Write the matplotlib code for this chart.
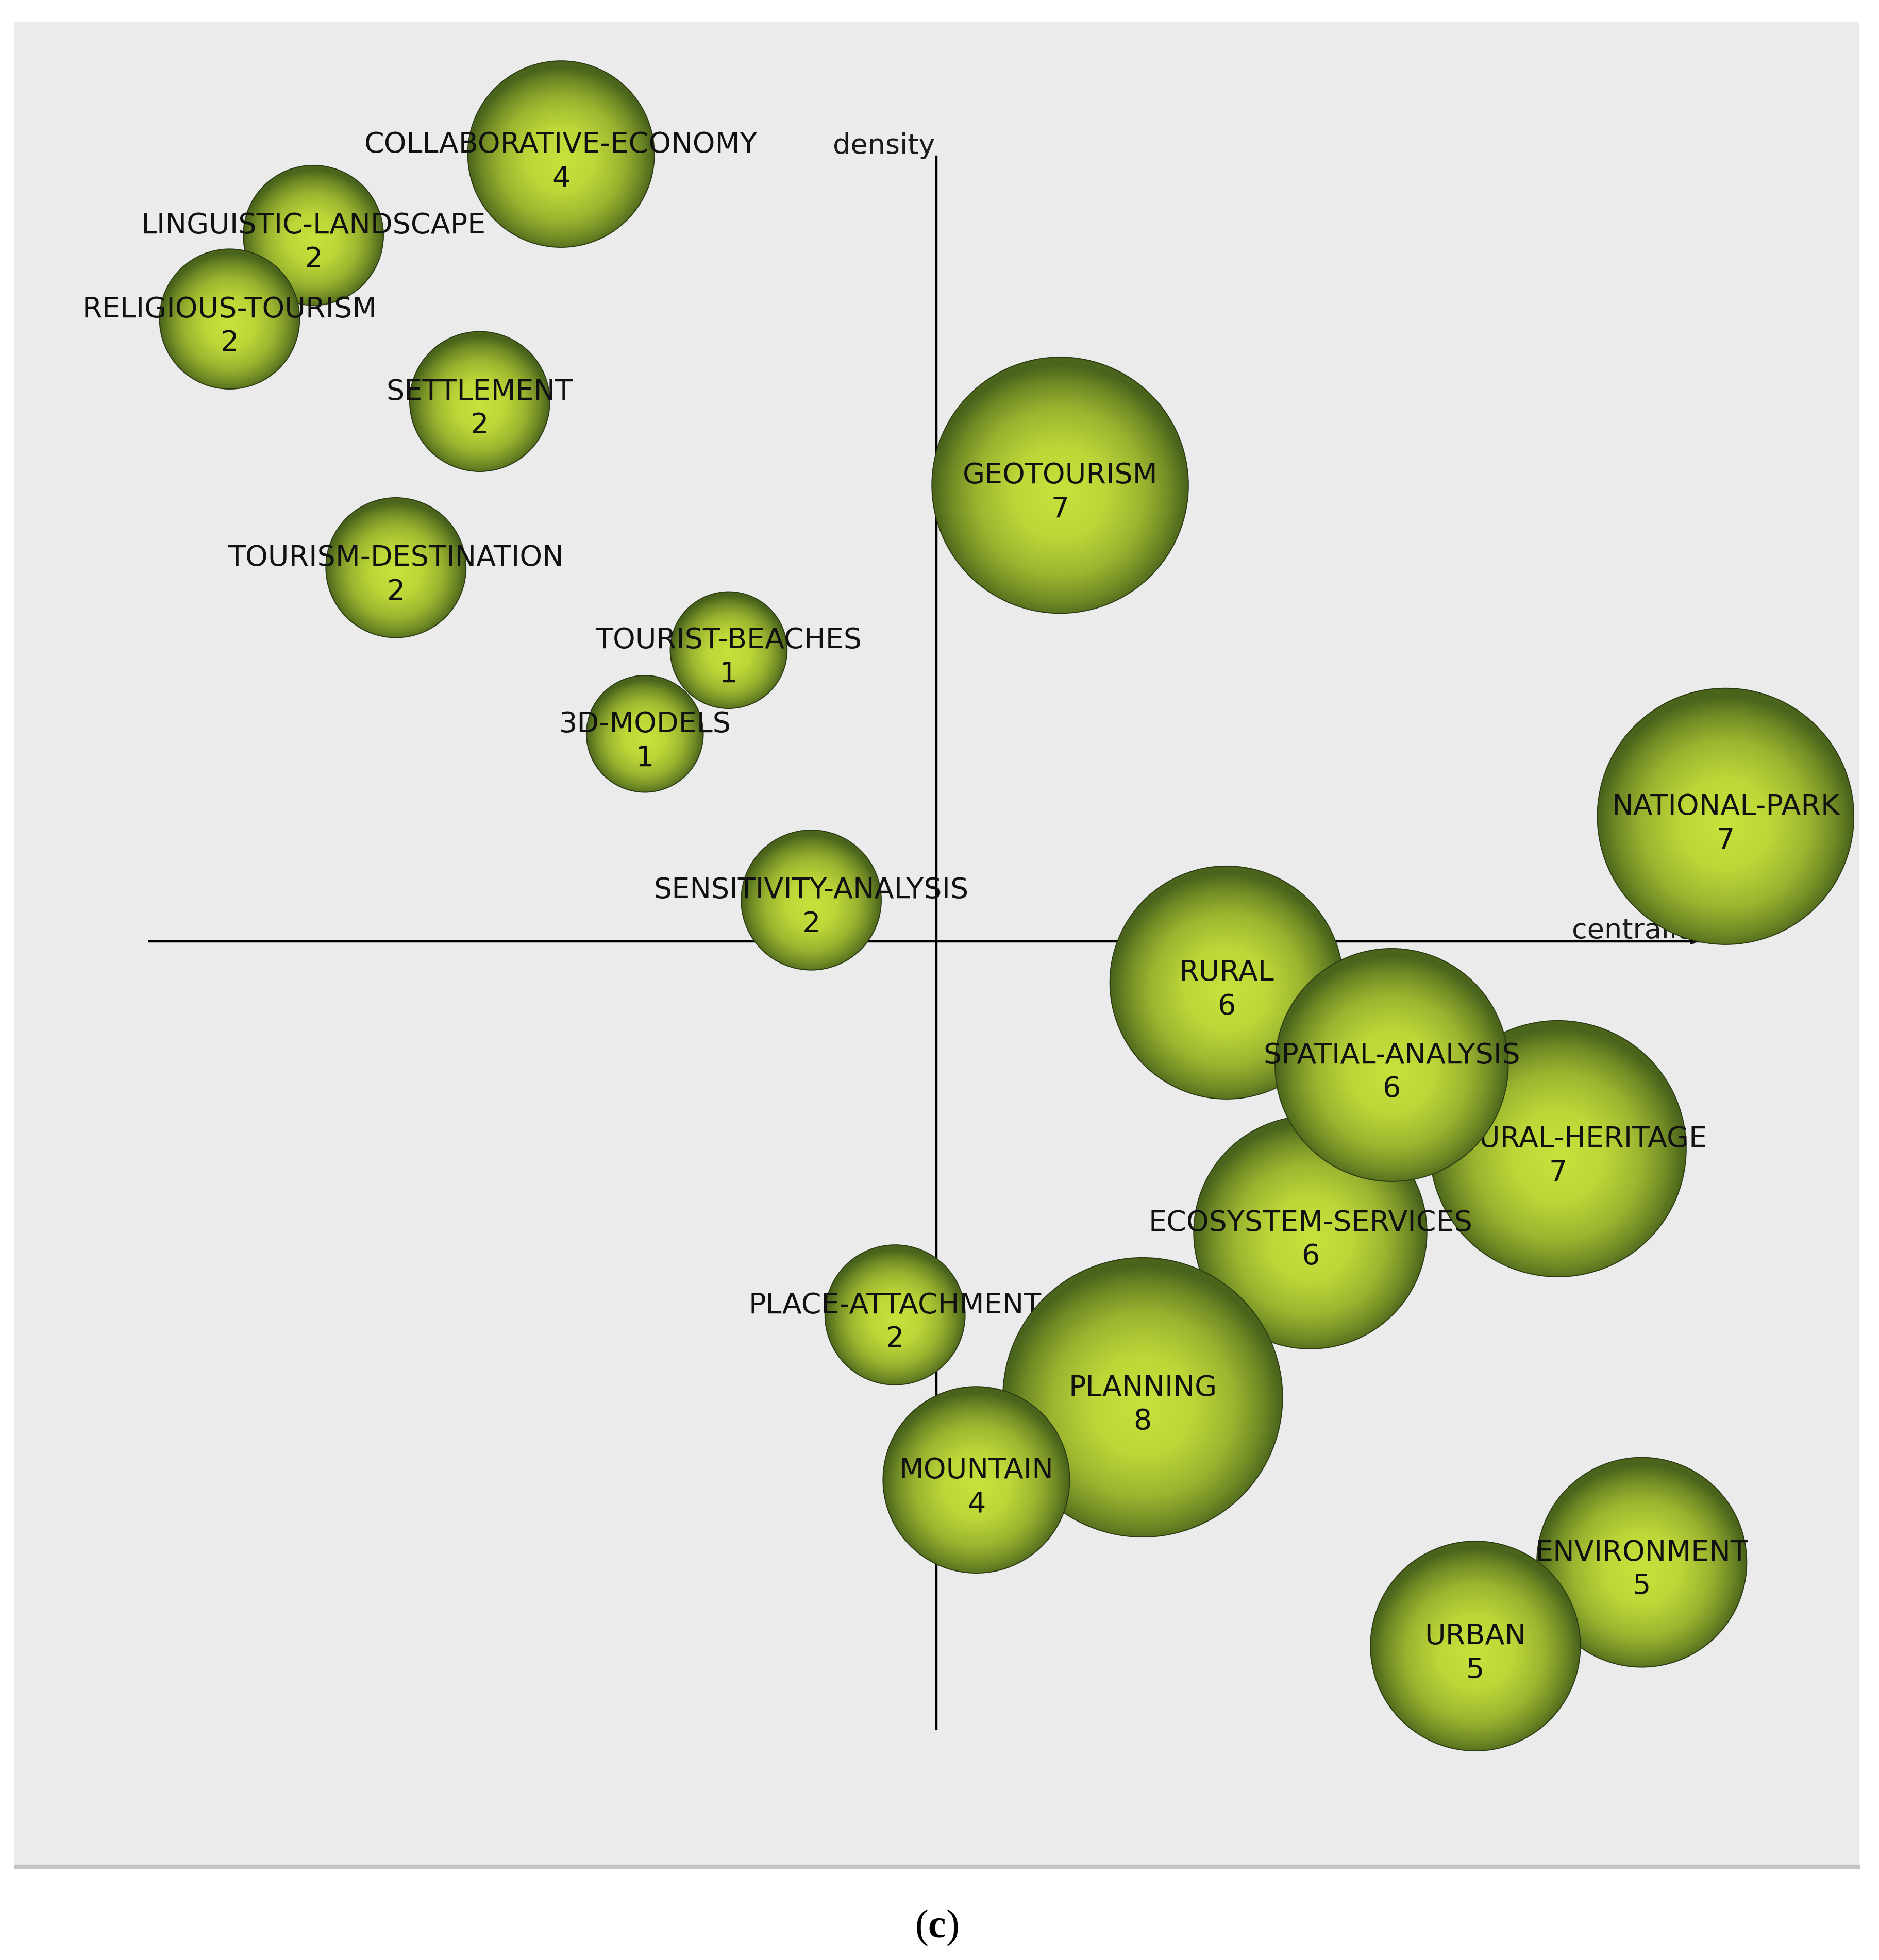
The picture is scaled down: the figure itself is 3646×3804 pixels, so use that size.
import numpy as np
import matplotlib
matplotlib.use('Agg')
import matplotlib.pyplot as plt
from matplotlib.patches import Circle, Rectangle
from matplotlib.colors import LinearSegmentedColormap

# strategic diagram data (centrality / density, median = 0)
themes = ['COLLABORATIVE-ECONOMY', 'LINGUISTIC-LANDSCAPE', 'RELIGIOUS-TOURISM',
          'SETTLEMENT', 'TOURISM-DESTINATION', 'TOURIST-BEACHES', '3D-MODELS',
          'SENSITIVITY-ANALYSIS', 'GEOTOURISM', 'NATIONAL-PARK',
          'CULTURAL-HERITAGE', 'ECOSYSTEM-SERVICES', 'RURAL', 'SPATIAL-ANALYSIS',
          'PLACE-ATTACHMENT', 'PLANNING', 'MOUNTAIN', 'ENVIRONMENT', 'URBAN']
docs = [4, 2, 2, 2, 2, 1, 1, 2, 7, 7, 7, 6, 6, 6, 2, 8, 4, 5, 5]
centrality = [-3.00, -4.98, -5.65, -3.65, -4.32, -1.66, -2.33, -1.00, 0.99, 6.31,
              4.97, 2.99, 2.32, 3.64, -0.33, 1.65, 0.32, 5.64, 4.31]
density = [6.30, 5.65, 4.98, 4.32, 2.99, 2.33, 1.66, 0.33, 3.65, 1.00,
           -1.66, -2.33, -0.33, -0.99, -2.99, -3.65, -4.31, -4.97, -5.64]


def radius(n):
    return 0.374 + 0.093 * n


fig = plt.figure(figsize=(36.46, 38.05), dpi=100, facecolor='white')
ax = fig.add_axes([28 / 3646, 185 / 3805, 3580 / 3646, 3577 / 3805])
ax.set_facecolor('#ebebeb')
for s in ax.spines.values():
    s.set_visible(False)
ax.set_xticks([])
ax.set_yticks([])

# thin shadow line under the panel
fig.patches.append(Rectangle((28 / 3646, 178 / 3805), 3580 / 3646, 7 / 3805,
                             transform=fig.transFigure, color='#c4c4c4', zorder=0))

# axes cross
ax.plot([0, 0], [-6.30, 6.28], color='black', lw=3.2, zorder=1)
ax.plot([-6.29, 6.29], [0, 0], color='black', lw=3.2, zorder=1)
ax.text(-0.01, 6.31, 'density', ha='right', va='baseline', fontsize=39,
        color='#1a1a1a', zorder=1)
ax.text(5.08, 0.03, 'centrality', ha='left', va='baseline', fontsize=39,
        color='#1a1a1a', zorder=1)

# sphere-like shading
cmap = LinearSegmentedColormap.from_list(
    'ball', [(0.0, '#c6e23c'), (0.35, '#bcd838'), (0.65, '#9cb530'),
             (0.85, '#728c26'), (1.0, '#4a641c')])
g = np.linspace(-1, 1, 300)
gx, gy = np.meshgrid(g, g)
rr = np.clip(np.sqrt(gx ** 2 + (gy + 0.06) ** 2), 0, 1)

for i, (name, n, cx, cy) in enumerate(zip(themes, docs, centrality, density)):
    r = radius(n)
    z = 2 + 2 * i
    circ = Circle((cx, cy), r, facecolor='none', edgecolor='#2b3a12', lw=1.4, zorder=z + 0.5)
    ax.add_patch(circ)
    im = ax.imshow(rr, cmap=cmap, vmin=0, vmax=1, origin='lower',
                   extent=(cx - r, cx + r, cy - r, cy + r), zorder=z,
                   interpolation='bilinear')
    im.set_clip_path(circ)
    ax.text(cx, cy + 0.08, name, ha='center', va='center', fontsize=40,
            color='#111111', zorder=z + 1)
    ax.text(cx, cy - 0.19, str(n), ha='center', va='center', fontsize=40,
            color='#111111', zorder=z + 1)

ax.set_aspect('auto')
ax.set_xlim(-7.37, 7.38)
ax.set_ylim(-7.39, 7.36)

plt.rcParams['mathtext.fontset'] = 'custom'
plt.rcParams['mathtext.rm'] = 'Liberation Serif'
plt.rcParams['mathtext.bf'] = 'Liberation Serif:bold'
fig.text(0.4985, 1 - 3741 / 3805, r'$(\mathbf{c})$', ha='center', va='center',
         fontsize=56, color='black')

fig.savefig('out.png', dpi=100, facecolor='white')
